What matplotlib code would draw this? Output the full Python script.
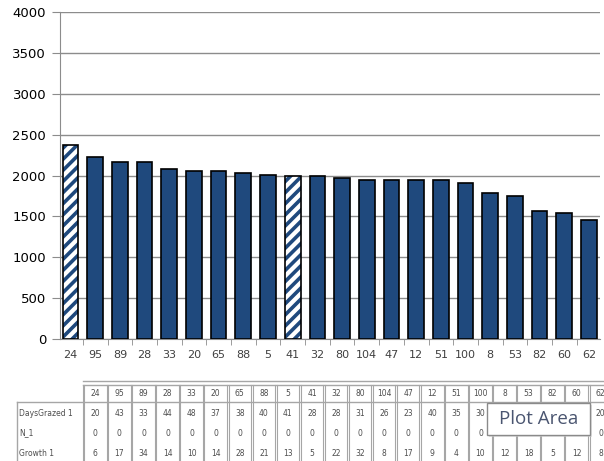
import matplotlib.pyplot as plt
import numpy as np
from matplotlib.patches import Rectangle

# paddock ids, sorted by yield
paddocks = ['24', '95', '89', '28', '33', '20', '65', '88', '5', '41', '32',
            '80', '104', '47', '12', '51', '100', '8', '53', '82', '60', '62']
yield_kg = [2375, 2225, 2160, 2160, 2075, 2055, 2055, 2035, 2010, 1990, 1990,
            1965, 1945, 1945, 1945, 1945, 1905, 1780, 1755, 1570, 1545, 1460]
highlight = ['24', '41']

# data table rows
row_names = ['DaysGrazed 1', 'N_1', 'Growth 1']
days_grazed = ['20', '43', '33', '44', '48', '37', '38', '40', '41', '28', '28',
               '31', '26', '23', '40', '35', '30', '', '', '', '', '20']
n_1 = ['0', '0', '0', '0', '0', '0', '0', '0', '0', '0', '0',
       '0', '0', '0', '0', '0', '0', '', '', '', '', '0']
growth = ['6', '17', '34', '14', '10', '14', '28', '21', '13', '5', '22',
          '32', '8', '17', '9', '4', '10', '12', '18', '5', '12', '8']
table_rows = [days_grazed, n_1, growth]

navy = '#1f497d'
grey = '#8c8c8c'
plt.rcParams['hatch.linewidth'] = 2.6

W, H = 604, 461
fig = plt.figure(figsize=(W / 100, H / 100), dpi=100)
ax = fig.add_axes([60 / W, 1 - 339 / H, 540 / W, 327 / H])

x = np.arange(len(paddocks))
bw = 0.636
for xi, p, v in zip(x, paddocks, yield_kg):
    if p in highlight:
        ax.bar(xi, v, bw, facecolor='white', edgecolor=navy, hatch='///',
               linewidth=0, zorder=3)
        ax.bar(xi, v, bw, fill=False, edgecolor='black', linewidth=1.2, zorder=4)
    else:
        ax.bar(xi, v, bw, color=navy, edgecolor='black', linewidth=1.2, zorder=3)

ax.set_xlim(-0.425, len(paddocks) - 0.555)
ax.set_ylim(0, 4000)
ax.set_yticks(range(0, 4001, 500))
ax.set_xticks(x, paddocks)
ax.set_xticks(np.arange(0.5, len(paddocks) - 1, 1), minor=True)
ax.yaxis.grid(True, color=grey, linewidth=1.0)
ax.set_axisbelow(True)
for s in ['top', 'right']:
    ax.spines[s].set_visible(False)
for s in ['left', 'bottom']:
    ax.spines[s].set_color(grey)
ax.tick_params(axis='x', which='major', length=0, pad=8, labelsize=8,
               labelcolor='#404040')
ax.tick_params(axis='x', which='minor', length=4, color=grey)
ax.tick_params(axis='y', length=6, color=grey, pad=4, labelsize=9.5)

# data table drawn in pixel coordinates under the chart
tab = fig.add_axes([0, 0, 1, 1])
tab.set_xlim(0, W)
tab.set_ylim(H, 0)
tab.axis('off')
tab.patch.set_alpha(0)

col_left = 83.3
col_w = 24.07
ncol = len(paddocks)
line_c = '#a6a6a6'
right = col_left + col_w * ncol
tab.plot([col_left, right], [381, 381], color=line_c, lw=1.0)
tab.plot([col_left, right], [385, 385], color=line_c, lw=1.0)
tab.plot([17, right], [402, 402], color=line_c, lw=1.0)
tab.plot([17, 17], [402, H], color=line_c, lw=1.0)
for i in range(ncol + 1):
    xc = col_left + col_w * i
    tab.plot([xc - 0.8, xc - 0.8], [385, H], color=line_c, lw=0.8)
    tab.plot([xc + 0.8, xc + 0.8], [385, H], color=line_c, lw=0.8)

txt_c = '#4d4d4d'
for i, p in enumerate(paddocks):
    tab.text(col_left + col_w * (i + 0.5), 393, p, ha='center', va='center',
             fontsize=5.5, color=txt_c)
for r, (name, vals) in enumerate(zip(row_names, table_rows)):
    yc = 413 + 20 * r
    tab.text(19, yc, name, ha='left', va='center', fontsize=5.5, color=txt_c)
    for i, v in enumerate(vals):
        tab.text(col_left + col_w * (i + 0.5), yc, v, ha='center', va='center',
                 fontsize=5.5, color=txt_c)

# hover tooltip box
tab.add_patch(Rectangle((489, 405), 103, 32, facecolor='#cfcfcf', edgecolor='none',
                        alpha=0.6, zorder=5))
tab.add_patch(Rectangle((487, 403), 103, 32, facecolor='white', edgecolor='#8a8a8a',
                        lw=1.0, zorder=6))
tab.text(538.5, 419, 'Plot Area', ha='center', va='center', fontsize=13.5,
         family='Open Sans', color='#4a5570', zorder=7)

fig.savefig('out.png', dpi=100)
